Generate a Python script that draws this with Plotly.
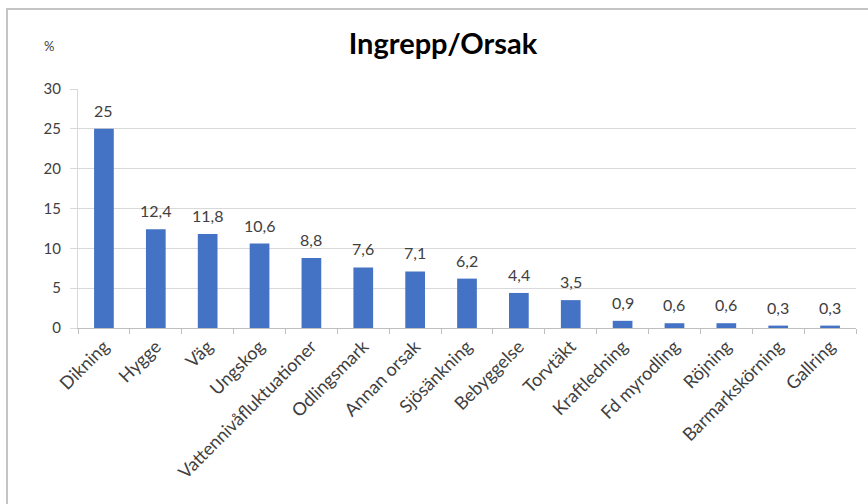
import plotly.graph_objects as go

# Share of interventions per cause (%)
categories = [
    "Dikning", "Hygge", "Väg", "Ungskog", "Vattennivåfluktuationer",
    "Odlingsmark", "Annan orsak", "Sjösänkning", "Bebyggelse", "Torvtäkt",
    "Kraftledning", "Fd myrodling", "Röjning", "Barmarkskörning", "Gallring",
]
values = [25, 12.4, 11.8, 10.6, 8.8, 7.6, 7.1, 6.2, 4.4, 3.5, 0.9, 0.6, 0.6, 0.3, 0.3]
y_ticks = [0, 5, 10, 15, 20, 25, 30]

W, H = 868, 504
L, R, T, B = 78, 12, 89, 176
pw, ph = W - L - R, H - T - B

def px_x(p):
    return (p - L) / pw

def px_y(p):
    return (H - B - p) / ph

def fmt(v):
    return f"{v:g}".replace(".", ",")

font_family = "Lato, 'Open Sans', sans-serif"
text_color = "#404040"

fig = go.Figure(
    go.Bar(
        x=categories,
        y=values,
        marker=dict(color="#4472C4", line=dict(width=0)),
        hovertemplate="%{x}: %{y}<extra></extra>",
    )
)

# value labels above each bar
value_labels = [
    dict(
        x=c,
        y=v,
        xref="x",
        yref="y",
        text=fmt(v),
        showarrow=False,
        xanchor="center",
        yanchor="bottom",
        yshift=7,
        font=dict(size=16, color=text_color, family=font_family),
    )
    for c, v in zip(categories, values)
]

fig.update_layout(
    width=W,
    height=H,
    margin=dict(l=L, r=R, t=T, b=B),
    paper_bgcolor="white",
    plot_bgcolor="white",
    separators=",.",
    bargap=0.62,
    showlegend=False,
    font=dict(family=font_family, color=text_color),
    title=dict(
        text="<b>Ingrepp/Orsak</b>",
        x=443 / W,
        xanchor="center",
        y=1 - 44 / H,
        yanchor="middle",
        font=dict(size=29, color="#000000", family=font_family),
    ),
    xaxis=dict(
        tickangle=-45,
        tickfont=dict(size=18, color=text_color),
        showline=True,
        linecolor="#bfbfbf",
        linewidth=1,
        ticks="outside",
        ticklen=5,
        tickcolor="#bfbfbf",
        tickson="boundaries",
        showgrid=False,
    ),
    yaxis=dict(
        range=[0, 30],
        tickvals=y_ticks,
        tickfont=dict(size=15, color=text_color),
        showgrid=True,
        gridcolor="#d9d9d9",
        gridwidth=1,
        zeroline=False,
        showline=True,
        linecolor="#d9d9d9",
        ticks="outside",
        ticklen=7,
        tickcolor="#d9d9d9",
        ticklabelstandoff=6,
    ),
    shapes=[
        dict(
            type="rect",
            xref="paper",
            yref="paper",
            x0=px_x(7),
            x1=px_x(W + 10),
            y0=px_y(H + 10),
            y1=px_y(9),
            line=dict(color="#c4c4c4", width=2),
            fillcolor="rgba(0,0,0,0)",
            layer="below",
        )
    ],
    annotations=value_labels + [
        dict(
            text="%",
            xref="paper",
            yref="paper",
            x=px_x(49),
            y=px_y(46),
            xanchor="center",
            yanchor="middle",
            showarrow=False,
            font=dict(size=13, color=text_color),
        )
    ],
)

fig.write_html("out.html")
